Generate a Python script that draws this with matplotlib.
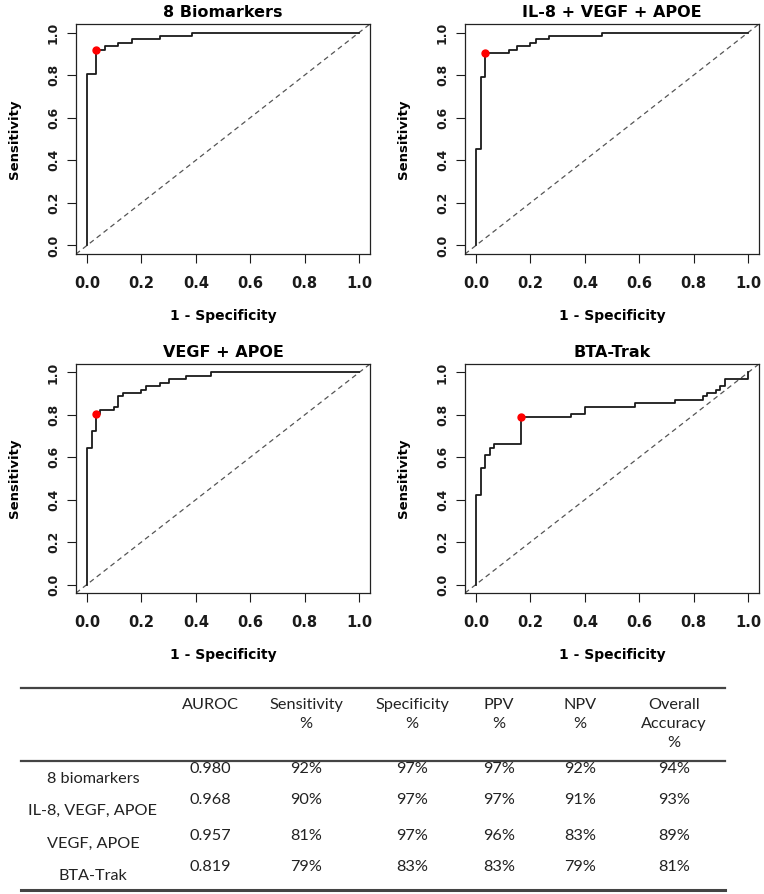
import matplotlib
matplotlib.use("Agg")
import matplotlib.pyplot as plt
from matplotlib.lines import Line2D

# ROC step curves (corner points)
titles = ["8 Biomarkers", "IL-8 + VEGF + APOE", "VEGF + APOE", "BTA-Trak"]

fpr_8 = [0, 0, 0.033, 0.065, 0.115, 0.165, 0.268, 0.385, 1.0]
tpr_8 = [0, 0.806, 0.919, 0.935, 0.952, 0.968, 0.984, 1.0, 1.0]

fpr_il8 = [0, 0, 0.017, 0.035, 0.12, 0.15, 0.2, 0.22, 0.268, 0.465, 1.0]
tpr_il8 = [0, 0.452, 0.79, 0.905, 0.919, 0.935, 0.952, 0.968, 0.984, 1.0, 1.0]

fpr_vegf = [0, 0, 0.017, 0.033, 0.048, 0.1, 0.115, 0.132, 0.2, 0.217,
            0.267, 0.3, 0.365, 0.455, 1.0]
tpr_vegf = [0, 0.645, 0.726, 0.806, 0.822, 0.838, 0.887, 0.903, 0.919, 0.935,
            0.952, 0.968, 0.984, 1.0, 1.0]

fpr_bta = [0, 0, 0.017, 0.033, 0.05, 0.065, 0.165, 0.35, 0.4, 0.583, 0.733,
           0.833, 0.848, 0.883, 0.898, 0.915, 1.0]
tpr_bta = [0, 0.42, 0.55, 0.613, 0.645, 0.661, 0.79, 0.806, 0.838, 0.855, 0.871,
           0.887, 0.903, 0.919, 0.935, 0.968, 1.0]

# optimal cut-off points (red)
best_fpr = [0.033, 0.033, 0.033, 0.165]
best_tpr = [0.92, 0.905, 0.806, 0.79]

# summary table
col_headers = ["AUROC", "Sensitivity\n%", "Specificity\n%", "PPV\n%", "NPV\n%", "Overall\nAccuracy\n%"]
row_labels = ["8 biomarkers", "IL-8, VEGF, APOE", "VEGF, APOE", "BTA-Trak"]
auroc = ["0.980", "0.968", "0.957", "0.819"]
sens = ["92%", "90%", "81%", "79%"]
spec = ["97%", "97%", "97%", "83%"]
ppv = ["97%", "97%", "96%", "83%"]
npv = ["92%", "91%", "83%", "79%"]
acc = ["94%", "93%", "89%", "81%"]

curves = [(fpr_8, tpr_8), (fpr_il8, tpr_il8), (fpr_vegf, tpr_vegf), (fpr_bta, tpr_bta)]

W, H = 764, 894
fig = plt.figure(figsize=(W / 100, H / 100), dpi=100)

# axes boxes in pixels: left, top, right, bottom
boxes = [(76, 24, 370, 254), (465, 24, 759, 254),
         (76, 364, 370, 593), (465, 364, 759, 593)]

ticks = [0, 0.2, 0.4, 0.6, 0.8, 1.0]
for i, (l, t, r, b) in enumerate(boxes):
    ax = fig.add_axes([l / W, 1 - b / H, (r - l) / W, (b - t) / H])
    fx, ty = curves[i]
    ax.plot(fx, ty, color="#1a1a1a", lw=1.3, drawstyle="steps-post", zorder=3)
    ax.axline((0, 0), (1, 1), color="#555555", lw=0.9, ls=(0, (4, 3)), zorder=2)
    ax.plot(best_fpr[i], best_tpr[i], "o", color="red", ms=5, mec="red", zorder=4)
    ax.set_xlim(-0.04, 1.04)
    ax.set_ylim(-0.04, 1.04)
    ax.set_xticks(ticks)
    ax.set_yticks(ticks)
    ax.set_xticklabels([f"{v:.1f}" for v in ticks], fontweight="bold", fontsize=10.5)
    ax.set_yticklabels([f"{v:.1f}" for v in ticks], fontweight="bold", fontsize=9,
                       rotation=90, va="center")
    ax.tick_params(axis="x", length=6.5, width=0.8, pad=9, colors="#1a1a1a")
    ax.tick_params(axis="y", length=6.5, width=0.8, pad=5, colors="#1a1a1a")
    for s in ax.spines.values():
        s.set_linewidth(0.9)
        s.set_color("#222222")
    ax.set_title(titles[i], fontweight="bold", fontsize=11.5, pad=5)
    ax.set_xlabel("1 - Specificity", fontweight="bold", fontsize=10, labelpad=13)
    ax.set_ylabel("Sensitivity", fontweight="bold", fontsize=9.5, labelpad=19)

# ---- table ----
tfont = dict(family=["Lato", "DejaVu Sans"], fontsize=11.7, color="#222222")


def fx(px):
    return px / W


def fy(py):
    return 1 - py / H


for y, lw in [(688, 1.6), (761, 1.6), (890, 2.2)]:
    fig.add_artist(Line2D([fx(21), fx(725)], [fy(y), fy(y)], color="#444444", lw=lw))

col_x = [210, 306, 412, 499, 580, 674]
for cx, head in zip(col_x, col_headers):
    fig.text(fx(cx), fy(698), head, ha="center", va="top", linespacing=1.45, **tfont)

value_rows_y = [769, 800, 836, 867]
label_rows_y = [779, 811, 844, 876]
columns = [auroc, sens, spec, ppv, npv, acc]
for r in range(len(row_labels)):
    fig.text(fx(93), fy(label_rows_y[r]), row_labels[r], ha="center", va="center", **tfont)
    for cx, col in zip(col_x, columns):
        fig.text(fx(cx), fy(value_rows_y[r]), col[r], ha="center", va="center", **tfont)

fig.savefig("out.png", dpi=100)
